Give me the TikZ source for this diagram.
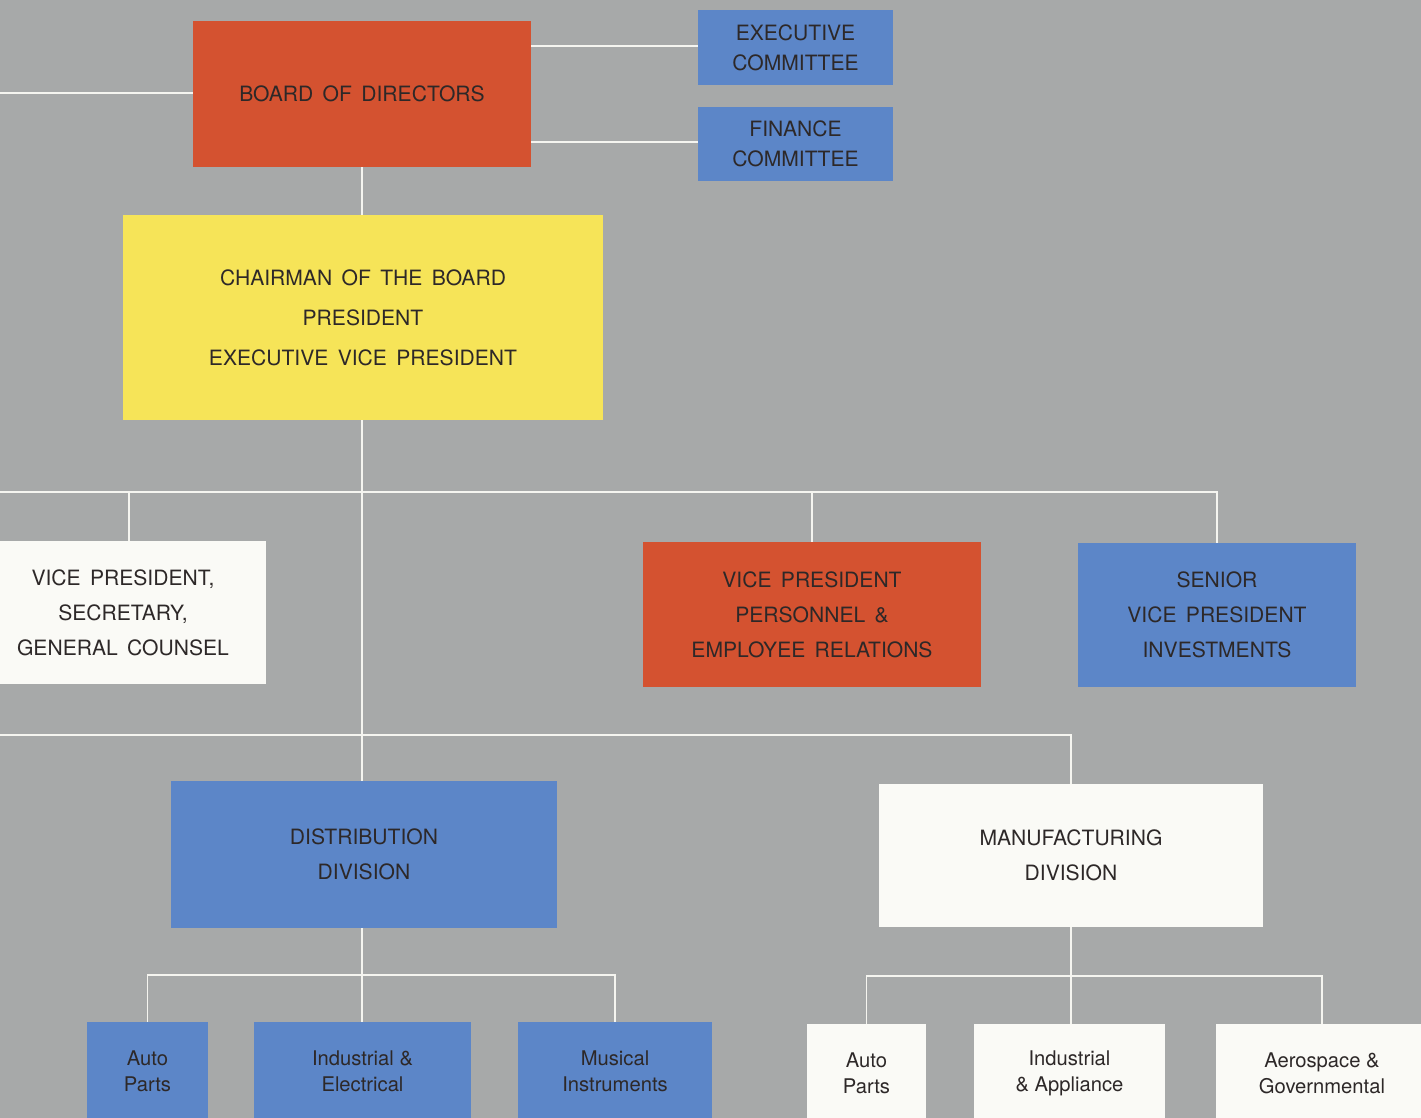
\documentclass[tikz,border=0pt]{standalone}
\usepackage{fontspec}
\setmainfont{TeX Gyre Heros}[WordSpace=1.6]
\newfontfamily\plainheros{TeX Gyre Heros}
\usepackage{xcolor}
\usepackage{tikz}
\usetikzlibrary{calc}
\usetikzlibrary{shapes,arrows,positioning}
\usetikzlibrary{backgrounds}

\definecolor{chartgray}{RGB}{167,169,169}
\definecolor{boardred}{RGB}{212,82,48}
\definecolor{deptblue}{RGB}{92,134,200}
\definecolor{chairyellow}{RGB}{246,228,88}
\definecolor{paperwhite}{RGB}{250,250,246}
\definecolor{ink}{RGB}{45,40,40}
\definecolor{wire}{RGB}{245,245,240}

\tikzset{
	box/.style={rectangle,inner sep=0pt,align=center,text=ink},
	redbox/.style={box,fill=boardred},
	bluebox/.style={box,fill=deptblue},
	yellowbox/.style={box,fill=chairyellow},
	whitebox/.style={box,fill=paperwhite},
	capsfar/.style={font=\fontsize{12}{22.7}\selectfont},
	capsmid/.style={font=\fontsize{12}{19.9}\selectfont},
	capsnear/.style={font=\fontsize{12}{17}\selectfont},
	lowtext/.style={font=\plainheros\fontsize{11.5}{14.7}\selectfont},
	wire/.style={draw=wire,line width=1.1pt}
}

\begin{document}
\begin{tikzpicture}[x=0.02cm,y=-0.02cm]
	\useasboundingbox (0,0) rectangle (1421,1118);
	\fill[chartgray] (0,0) rectangle (1421,1118);
	\clip (0,0) rectangle (1421,1118);

	\node[redbox,capsnear,minimum width=6.76cm,minimum height=2.92cm] (board) at (362,94) {BOARD OF DIRECTORS};
	\node[bluebox,capsnear,minimum width=3.9cm,minimum height=1.5cm] (exec) at (795.5,47.5) {EXECUTIVE\\COMMITTEE};
	\node[bluebox,capsnear,minimum width=3.9cm,minimum height=1.48cm] (fin) at (795.5,144) {FINANCE\\COMMITTEE};
	\node[yellowbox,capsfar,minimum width=9.6cm,minimum height=4.1cm] (chair) at (363,317.5) {CHAIRMAN OF THE BOARD\\PRESIDENT\\EXECUTIVE VICE PRESIDENT};

	\node[whitebox,capsmid,minimum width=5.72cm,minimum height=2.86cm] (vpsec) at (123,612.5) {VICE PRESIDENT,\\SECRETARY,\\GENERAL COUNSEL};
	\node[redbox,capsmid,minimum width=6.76cm,minimum height=2.9cm] (vpper) at (812,614.5) {VICE PRESIDENT\\PERSONNEL \&\\EMPLOYEE RELATIONS};
	\node[bluebox,capsmid,minimum width=5.56cm,minimum height=2.88cm] (svp) at (1217,615) {SENIOR\\VICE PRESIDENT\\INVESTMENTS};

	\node[bluebox,capsmid,minimum width=7.72cm,minimum height=2.94cm] (dist) at (364,854.5) {DISTRIBUTION\\DIVISION};
	\node[whitebox,capsmid,minimum width=7.68cm,minimum height=2.86cm] (manu) at (1071,855.5) {MANUFACTURING\\DIVISION};

	\node[bluebox,lowtext,minimum width=2.42cm,minimum height=1.96cm] (dauto) at (147.5,1071) {Auto\\Parts};
	\node[bluebox,lowtext,minimum width=4.34cm,minimum height=1.96cm] (dind) at (362.5,1071) {Industrial \&\\Electrical};
	\node[bluebox,lowtext,minimum width=3.88cm,minimum height=1.96cm] (dmus) at (615,1071) {Musical\\Instruments};
	\node[whitebox,lowtext,minimum width=2.38cm,minimum height=1.96cm] (mauto) at (866.5,1073) {Auto\\Parts};
	\node[whitebox,lowtext,minimum width=3.82cm,minimum height=1.96cm] (mind) at (1069.5,1073) {Industrial\\\& Appliance};
	\node[whitebox,lowtext,minimum width=4.24cm,minimum height=1.96cm] (maero) at (1322,1073) {Aerospace \&\\Governmental};

	\coordinate (boardin) at (0,93);
	\coordinate (staffline) at (0,492);
	\coordinate (divline) at (0,735);
	\coordinate (distbar) at (362,975);
	\coordinate (manubar) at (1071,976);

	\draw[wire] (boardin) -- (boardin -| board.west);
	\draw[wire] (board.east |- 0,46) -- (exec.west |- 0,46);
	\draw[wire] (board.east |- 0,142) -- (fin.west |- 0,142);
	\draw[wire] (board.south) -- (board.south |- chair.north);
	\draw[wire] (board.south |- chair.south) -- (board.south |- dist.north);
	\draw[wire] (staffline) -| (svp.north);
	\draw[wire] (129,492) -- (129,541);
	\draw[wire] (vpper.north |- staffline) -- (vpper.north);
	\draw[wire] (divline) -| (manu.north);
	\draw[wire] (distbar |- dist.south) -- (distbar) -- (distbar |- dind.north);
	\draw[wire] (dauto.north) |- (distbar) -| (dmus.north);
	\draw[wire] (manu.south) -- (manubar) -- (manubar |- mind.north);
	\draw[wire] (mauto.north) |- (manubar) -| (maero.north);
\end{tikzpicture}
\end{document}
